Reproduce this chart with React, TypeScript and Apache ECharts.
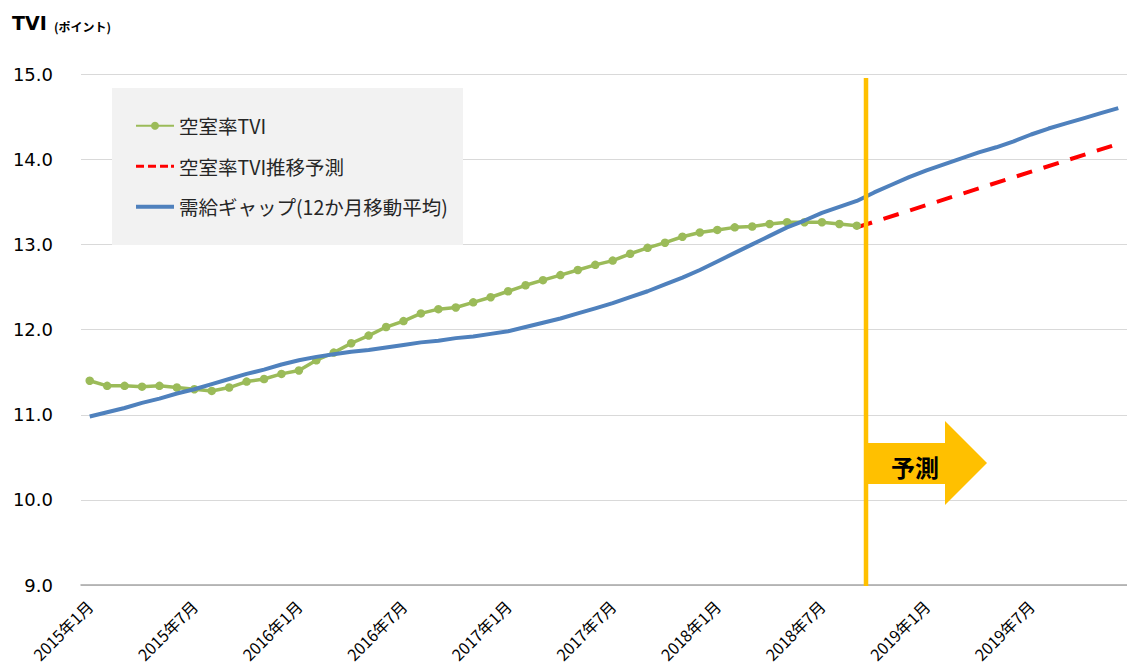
import React, { useEffect, useRef } from "react";
import * as echarts from "echarts";

const years = [2015, 2016, 2017, 2018, 2019];
const categories: string[] = [];
years.forEach((y) => {
  for (let m = 1; m <= 12; m++) categories.push(`${y}年${m}月`);
});

const seriesNames = ["空室率TVI", "空室率TVI推移予測", "需給ギャップ(12か月移動平均)"];

// 空室率TVI (2015年1月 - 2018年9月)
const vacancyTVI = [
  11.40, 11.34, 11.34, 11.33, 11.34, 11.32, 11.30, 11.28, 11.32, 11.39,
  11.42, 11.48, 11.52, 11.64, 11.73, 11.84, 11.93, 12.03, 12.10, 12.19,
  12.24, 12.26, 12.32, 12.38, 12.45, 12.52, 12.58, 12.64, 12.70, 12.76,
  12.81, 12.89, 12.96, 13.02, 13.09, 13.14, 13.17, 13.20, 13.21, 13.24,
  13.26, 13.26, 13.26, 13.24, 13.22,
];

// 需給ギャップ(12か月移動平均)
const demandGap = [
  10.98, 11.03, 11.08, 11.14, 11.19, 11.25, 11.30, 11.36, 11.42, 11.48,
  11.53, 11.59, 11.64, 11.68, 11.71, 11.74, 11.76, 11.79, 11.82, 11.85,
  11.87, 11.90, 11.92, 11.95, 11.98, 12.03, 12.08, 12.13, 12.19, 12.25,
  12.31, 12.38, 12.45, 12.53, 12.61, 12.70, 12.80, 12.90, 13.00, 13.10,
  13.20, 13.28, 13.37, 13.44, 13.51, 13.61, 13.70, 13.79, 13.87, 13.94,
  14.01, 14.08, 14.14, 14.21, 14.29, 14.36, 14.42, 14.48, 14.54, 14.60,
];

// 空室率TVI推移予測: straight line from 2018年9月 to 2019年12月
const forecastStart = { month: "2018年9月", value: 13.2 };
const forecastEnd = { month: "2019年12月", value: 14.18 };
const forecastTVI: (number | null)[] = categories.map((c) =>
  c === forecastStart.month ? forecastStart.value : c === forecastEnd.month ? forecastEnd.value : null
);

const yMin = 9;
const yMax = 15;
const yStep = 1;

export default function App() {
  const ref = useRef<HTMLDivElement>(null);
  useEffect(() => {
    if (!ref.current) return;
    const chart = echarts.init(ref.current, null, { renderer: "svg" });
    const cjk = "'Noto Sans CJK JP', sans-serif";
    chart.setOption({
      animation: false,
      backgroundColor: "#ffffff",
      grid: { left: 81, top: 74, width: 1050, height: 513, containLabel: false },
      legend: {
        orient: "vertical",
        left: 112,
        top: 88,
        padding: [28, 14, 28, 23],
        itemWidth: 38,
        itemHeight: 10,
        itemGap: 21,
        z: 10,
        data: [
          { name: seriesNames[0] },
          {
            name: seriesNames[1],
            icon: "path://M0,0h8v3h-8z M12,0h8v3h-8z M24,0h8v3h-8z M35,0h3v3h-3z",
          },
          { name: seriesNames[2], icon: "path://M0,0h38v4h-38z" },
        ],
        textStyle: { fontSize: 19.5, fontFamily: cjk, color: "#262626" },
      },
      xAxis: {
        type: "category",
        data: categories,
        boundaryGap: true,
        axisLine: { lineStyle: { color: "#a6a6a6", width: 1.5 } },
        axisTick: { show: false },
        axisLabel: {
          interval: 5,
          rotate: 45,
          margin: 18,
          fontSize: 16,
          fontFamily: cjk,
          color: "#000",
        },
        splitLine: { show: false },
      },
      yAxis: {
        type: "value",
        min: yMin,
        max: yMax,
        interval: yStep,
        axisLine: { show: false },
        axisTick: { show: false },
        axisLabel: {
          margin: 28,
          fontSize: 18,
          fontFamily: "'DejaVu Sans', sans-serif",
          color: "#000",
          formatter: (v: number) => v.toFixed(1),
        },
        splitLine: { lineStyle: { color: "#d9d9d9", width: 1 } },
      },
      series: [
        {
          name: seriesNames[0],
          type: "line",
          data: vacancyTVI,
          symbol: "circle",
          symbolSize: 8.5,
          showAllSymbol: true,
          itemStyle: { color: "#9BBB59" },
          lineStyle: { color: "#9BBB59", width: 3.5 },
          z: 3,
        },
        {
          name: seriesNames[1],
          type: "line",
          data: forecastTVI,
          connectNulls: true,
          symbol: "none",
          itemStyle: { color: "#FF0000" },
          lineStyle: { color: "#FF0000", width: 4, type: [16, 12] },
          z: 3,
        },
        {
          name: seriesNames[2],
          type: "line",
          data: demandGap,
          symbol: "none",
          itemStyle: { color: "#4F81BD" },
          lineStyle: { color: "#4F81BD", width: 4 },
          z: 4,
        },
      ],
      graphic: [
        {
          type: "rect",
          z: 1,
          shape: { x: 112, y: 88, width: 351, height: 157 },
          style: { fill: "#f2f2f2" },
        },
        {
          type: "text",
          z: 10,
          x: 12,
          y: 23,
          style: {
            text: "TVI",
            font: "bold 19px 'DejaVu Sans', sans-serif",
            fill: "#000",
            verticalAlign: "middle",
          },
        },
        {
          type: "text",
          z: 10,
          x: 54,
          y: 26,
          style: {
            text: "(ポイント)",
            font: "bold 12px 'Noto Sans CJK JP', sans-serif",
            fill: "#000",
            verticalAlign: "middle",
          },
        },
        {
          type: "line",
          z: 20,
          shape: { x1: 866, y1: 78, x2: 866, y2: 586 },
          style: { stroke: "#FFC000", lineWidth: 4.5 },
        },
        {
          type: "polygon",
          z: 20,
          shape: {
            points: [
              [868, 443],
              [945, 443],
              [945, 421],
              [987, 463],
              [945, 505],
              [945, 484],
              [868, 484],
            ],
          },
          style: { fill: "#FFC000" },
        },
        {
          type: "text",
          z: 21,
          x: 915,
          y: 466,
          style: {
            text: "予測",
            font: "bold 24px 'Noto Sans CJK JP', sans-serif",
            fill: "#000",
            align: "center",
            verticalAlign: "middle",
          },
        },
      ],
    });
    return () => chart.dispose();
  }, []);
  return (
    <div
      ref={ref}
      style={{ position: "absolute", left: 0, top: 0, width: 1127, height: 665 }}
    />
  );
}
